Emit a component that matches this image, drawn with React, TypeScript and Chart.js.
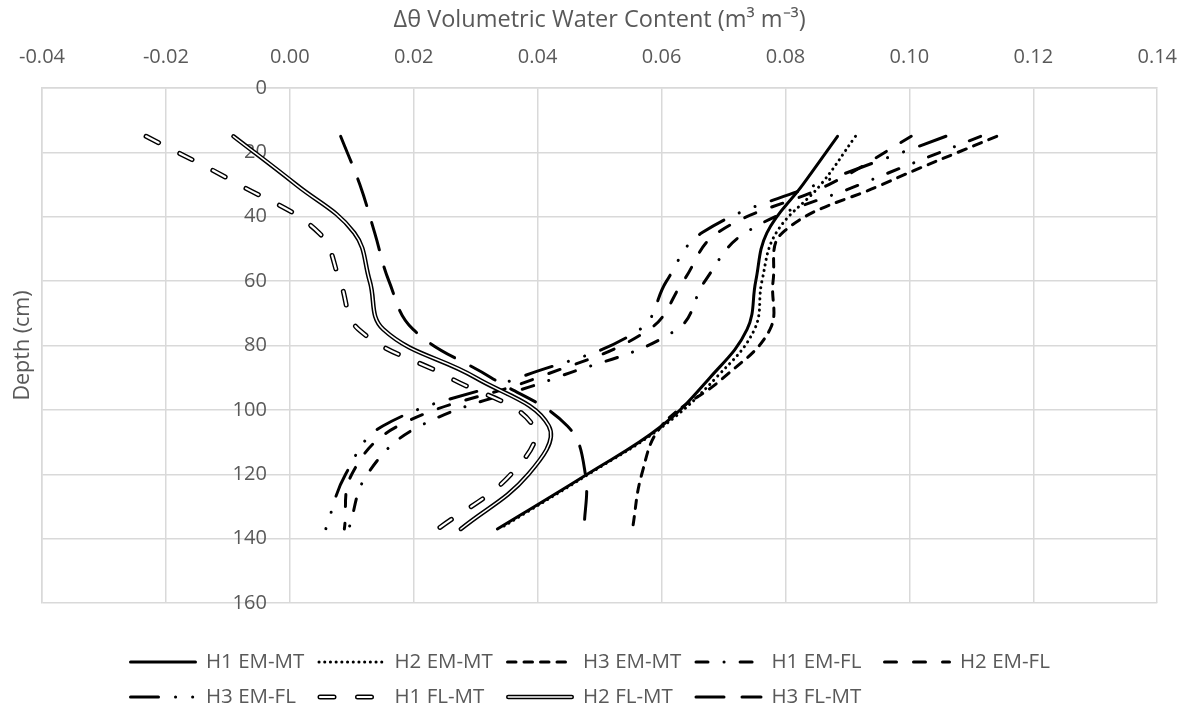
import React, { useEffect, useRef } from 'react';
import { Chart, registerables } from 'chart.js';

Chart.register(...registerables);

// ---- data ----
const depths = [15, 30, 45, 60, 75, 90, 105, 120, 137];
const seriesNames = [
  'H1 EM-MT', 'H2 EM-MT', 'H3 EM-MT', 'H1 EM-FL', 'H2 EM-FL',
  'H3 EM-FL', 'H1 FL-MT', 'H2 FL-MT', 'H3 FL-MT',
];
const h1EmMt = [0.0884, 0.0828, 0.0770, 0.0752, 0.0738, 0.0678, 0.0600, 0.0480, 0.0335];
const h2EmMt = [0.0913, 0.0857, 0.0785, 0.0762, 0.0750, 0.0688, 0.0603, 0.0482, 0.0338];
const h3EmMt = [0.1141, 0.0956, 0.0795, 0.0780, 0.0775, 0.0700, 0.0600, 0.0568, 0.0553];
const h1EmFl = [0.1115, 0.0920, 0.0735, 0.0670, 0.0625, 0.0430, 0.0210, 0.0125, 0.0095];
const h2EmFl = [0.1003, 0.0870, 0.0690, 0.0635, 0.0580, 0.0400, 0.0175, 0.0100, 0.0088];
const h3EmFl = [0.1059, 0.0850, 0.0665, 0.0608, 0.0565, 0.0370, 0.0150, 0.0090, 0.0058];
const h1FlMt = [-0.0232, -0.0082, 0.0047, 0.0081, 0.0111, 0.0258, 0.0393, 0.0357, 0.0239];
const h2FlMt = [-0.0091, 0.0010, 0.0104, 0.0129, 0.0151, 0.0300, 0.0418, 0.0385, 0.0276];
const h3FlMt = [0.0082, 0.0113, 0.0137, 0.0160, 0.0199, 0.0325, 0.0448, 0.0477, 0.0475];
const seriesValues = [h1EmMt, h2EmMt, h3EmMt, h1EmFl, h2EmFl, h3EmFl, h1FlMt, h2FlMt, h3FlMt];

const xMin = -0.04;
const xMax = 0.14;
const xStep = 0.02;
const yMin = 0;
const yMax = 160;
const yStep = 20;

const xTitle = 'Δθ Volumetric Water Content (m³ m⁻³)';
const yTitle = 'Depth (cm)';

// ---- styles ----
type LineStyle = { dash: number[]; width: number; inner?: number };
const lineStyles: LineStyle[] = [
  { dash: [], width: 3 },
  { dash: [0.1, 5.6], width: 3 },
  { dash: [8.5, 8], width: 3 },
  { dash: [12, 16, 0.1, 16], width: 3 },
  { dash: [12, 17], width: 3 },
  { dash: [28, 17, 0.1, 17, 0.1, 17], width: 3 },
  { dash: [14, 23.5], width: 5, inner: 2.2 },
  { dash: [], width: 4.5, inner: 1.5 },
  { dash: [28, 18], width: 3 },
];

const FONT = '"Open Sans", sans-serif';
const TEXT = '#595959';
const GRID = '#d9d9d9';

const W = 1196;
const H = 717;
const PLOT_LEFT = 37;
const PLOT_RIGHT = 1165;
const PLOT_TOP = 88;
const PLOT_BOTTOM = 603;
const Y_LABEL_GAP = 23;

const LEG_X = 129;
const LEG_COL = 188.5;
const LEG_LEN = 68;
const LEG_TEXT = 77;
const LEG_ROWS = [662, 697];

// y tick labels are drawn beside the x = 0 line (where the vertical axis crosses)
const yLabelPlugin = {
  id: 'yLabelsAtZero',
  beforeDatasetsDraw(chart: any) {
    const ctx = chart.ctx as CanvasRenderingContext2D;
    const xs = chart.scales.x;
    const ys = chart.scales.y;
    const xr = xs.getPixelForValue(0) - Y_LABEL_GAP;
    ctx.save();
    ctx.fillStyle = TEXT;
    ctx.font = `20px ${FONT}`;
    ctx.textAlign = 'right';
    ctx.textBaseline = 'middle';
    ys.ticks.forEach((t: any) => {
      ctx.fillText(String(t.value), xr, ys.getPixelForValue(t.value));
    });
    ctx.restore();
  },
};

const legendPlugin = {
  id: 'gridLegend',
  afterDraw(chart: any) {
    const ctx = chart.ctx as CanvasRenderingContext2D;
    ctx.save();
    seriesNames.forEach((name, i) => {
      const row = i < 5 ? 0 : 1;
      const col = i < 5 ? i : i - 5;
      const x0 = LEG_X + col * LEG_COL;
      const y = LEG_ROWS[row];
      const st = lineStyles[i];
      const a = x0 + st.width / 2;
      const b = x0 + LEG_LEN - st.width / 2;
      ctx.lineCap = 'round';
      ctx.setLineDash(st.dash);
      ctx.strokeStyle = '#000';
      ctx.lineWidth = st.width;
      ctx.beginPath();
      ctx.moveTo(a, y);
      ctx.lineTo(b, y);
      ctx.stroke();
      if (st.inner) {
        ctx.strokeStyle = '#fff';
        ctx.lineWidth = st.inner;
        ctx.beginPath();
        ctx.moveTo(a, y);
        ctx.lineTo(b, y);
        ctx.stroke();
      }
      ctx.setLineDash([]);
      ctx.fillStyle = TEXT;
      ctx.font = `20.5px ${FONT}`;
      ctx.textBaseline = 'middle';
      ctx.textAlign = 'left';
      ctx.fillText(name, x0 + LEG_TEXT, y);
    });
    ctx.restore();
  },
};

function buildDatasets() {
  const out: any[] = [];
  seriesNames.forEach((name, i) => {
    const st = lineStyles[i];
    const data = depths.map((d, j) => ({ x: seriesValues[i][j], y: d }));
    const base = {
      data,
      borderDash: st.dash,
      borderCapStyle: 'round',
      borderJoinStyle: 'round',
      pointRadius: 0,
      pointHoverRadius: 0,
      tension: 0.4,
      fill: false,
    };
    out.push({ ...base, label: name, borderColor: '#000', borderWidth: st.width, order: 1 });
    if (st.inner) {
      out.push({ ...base, label: name + ' (inner)', borderColor: '#fff', borderWidth: st.inner, order: 0 });
    }
  });
  return out;
}

export default function App() {
  const ref = useRef<HTMLCanvasElement>(null);
  useEffect(() => {
    document.body.style.margin = '0';
    Chart.defaults.font.family = FONT;
    const chart = new Chart(ref.current as HTMLCanvasElement, {
      type: 'line',
      data: { datasets: buildDatasets() },
      plugins: [yLabelPlugin, legendPlugin],
      options: {
        responsive: false,
        animation: false,
        devicePixelRatio: 1,
        layout: { padding: { left: 0, top: 0, right: W - PLOT_RIGHT, bottom: H - PLOT_BOTTOM } },
        plugins: { legend: { display: false }, tooltip: { enabled: false } },
        scales: {
          x: {
            type: 'linear',
            position: 'top',
            min: xMin,
            max: xMax,
            ticks: {
              stepSize: xStep,
              padding: 19,
              color: TEXT,
              font: { size: 20, family: FONT },
              maxRotation: 0,
              callback: (v: any) => Number(v).toFixed(2),
            },
            grid: { color: GRID, lineWidth: 1.5, drawTicks: false },
            border: { color: GRID, width: 1.5 },
            title: {
              display: true,
              text: xTitle,
              color: TEXT,
              font: { size: 23.5, family: FONT },
              padding: { top: 6, bottom: 0 },
            },
            afterFit: (s: any) => { s.height = PLOT_TOP; },
          },
          y: {
            type: 'linear',
            position: 'left',
            reverse: true,
            min: yMin,
            max: yMax,
            ticks: {
              stepSize: yStep,
              display: false,
            },
            grid: { color: GRID, lineWidth: 1.5, drawTicks: false },
            border: { color: GRID, width: 1.5 },
            title: {
              display: true,
              text: yTitle,
              color: TEXT,
              font: { size: 21.5, family: FONT },
              padding: { top: 5, bottom: 0 },
            },
            afterFit: (s: any) => { s.width = PLOT_LEFT; },
          },
        },
      } as any,
    });
    return () => chart.destroy();
  }, []);
  return (
    <div style={{ width: W, height: H, background: '#fff' }}>
      <canvas ref={ref} width={W} height={H} style={{ display: 'block' }} />
    </div>
  );
}
